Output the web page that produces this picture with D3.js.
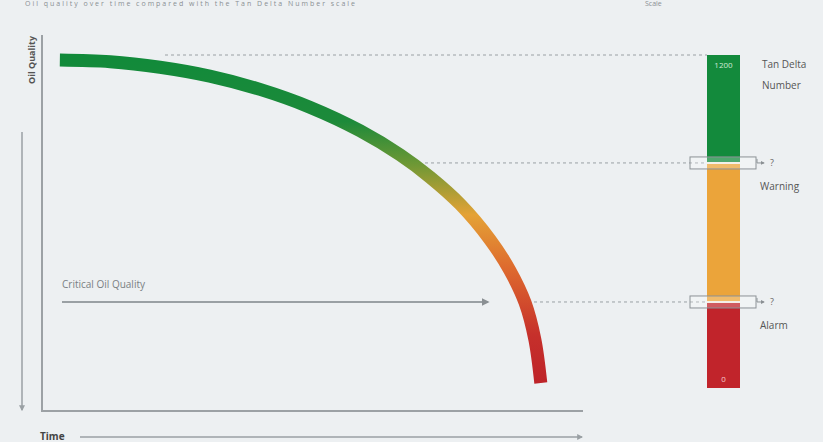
<!DOCTYPE html>
<html>
<head>
<meta charset="utf-8">
<script src="https://cdn.jsdelivr.net/npm/d3@7"></script>
<style>
  html, body { margin: 0; padding: 0; background: #edf0f2; }
  text { font-family: "Open Sans", "DejaVu Sans", sans-serif; }
</style>
</head>
<body>
<svg id="chart" width="823" height="442"></svg>
<script>
// oil quality over time (time 0..100, quality on the 0..1200 TAN scale)
var timePts    = [3.3, 12.6, 21.8, 31.0, 40.3, 49.5, 58.8, 66.2, 71.7, 77.3, 82.8, 86.5, 89.3, 91.1, 92.2];
var qualityPts = [1182, 1176, 1156, 1124, 1076, 1012, 927, 840, 760, 662, 535, 423, 307, 175, 18];

// tan delta scale bands
var bandNames  = ["Alarm", "Warning", "Good"];
var bandFrom   = [0, 310, 811];
var bandTo     = [310, 811, 1200];
var bandColors = ["#c1242b", "#eba43a", "#138a3c"];
var scaleTop   = 1200;
var scaleBottom = 0;
var warningLevel = 811;
var alarmLevel = 310;

var svg = d3.select("#chart");

var x = d3.scaleLinear().domain([0, 100]).range([42, 583]);
var y = d3.scaleLinear().domain([0, 1200]).range([388, 55]);

var defs = svg.append("defs");

function arrowMarker(id, color) {
    defs.append("marker")
        .attr("id", id)
        .attr("viewBox", "0 0 10 10")
        .attr("refX", 8)
        .attr("refY", 5)
        .attr("markerWidth", 4)
        .attr("markerHeight", 4)
        .attr("orient", "auto")
        .append("path")
        .attr("d", "M0,0 L10,5 L0,10 Z")
        .attr("fill", color);
}
arrowMarker("arrGray", "#9aa0a4");
arrowMarker("arrDark", "#8a8f93");

// gradient along curve (vertical, follows the fall of quality)
var grad = defs.append("linearGradient")
    .attr("id", "curveGrad")
    .attr("gradientUnits", "userSpaceOnUse")
    .attr("x1", 0).attr("x2", 0)
    .attr("y1", y(1200)).attr("y2", y(0));
grad.append("stop").attr("offset", "0%").attr("stop-color", "#118a3a");
grad.append("stop").attr("offset", "20%").attr("stop-color", "#1d8a3a");
grad.append("stop").attr("offset", "33%").attr("stop-color", "#6f9835");
grad.append("stop").attr("offset", "48%").attr("stop-color", "#e4a236");
grad.append("stop").attr("offset", "64%").attr("stop-color", "#de6a2e");
grad.append("stop").attr("offset", "84%").attr("stop-color", "#c6302b");
grad.append("stop").attr("offset", "100%").attr("stop-color", "#bd2229");

// faint title line at top
svg.append("text")
    .attr("x", 25).attr("y", 6)
    .attr("font-size", 7)
    .attr("fill", "#8a8f93")
    .attr("textLength", 330)
    .text("Oil quality over time compared with the Tan Delta Number scale");
svg.append("text")
    .attr("x", 645).attr("y", 6)
    .attr("font-size", 7)
    .attr("fill", "#8a8f93")
    .text("Scale");

// axes
svg.append("line")
    .attr("x1", 42).attr("y1", 35)
    .attr("x2", 42).attr("y2", 411)
    .attr("stroke", "#9ca1a5").attr("stroke-width", 2);
svg.append("line")
    .attr("x1", 41).attr("y1", 411)
    .attr("x2", 583).attr("y2", 411)
    .attr("stroke", "#9ca1a5").attr("stroke-width", 2);

svg.append("text")
    .attr("transform", "translate(35,60) rotate(-90)")
    .attr("text-anchor", "middle")
    .attr("font-size", 9)
    .attr("font-weight", "bold")
    .attr("fill", "#555")
    .text("Oil Quality");
svg.append("line")
    .attr("x1", 22).attr("y1", 132)
    .attr("x2", 22).attr("y2", 410)
    .attr("stroke", "#9aa0a4").attr("stroke-width", 1.5)
    .attr("marker-end", "url(#arrGray)");

svg.append("text")
    .attr("x", 40).attr("y", 440)
    .attr("font-size", 10)
    .attr("font-weight", "bold")
    .attr("fill", "#444")
    .text("Time");
svg.append("line")
    .attr("x1", 80).attr("y1", 437)
    .attr("x2", 582).attr("y2", 437)
    .attr("stroke", "#9aa0a4").attr("stroke-width", 1.5)
    .attr("marker-end", "url(#arrGray)");

// dashed level lines to the scale
var barX = 707, barW = 33;
function dashed(xStart, val) {
    svg.append("line")
        .attr("x1", xStart).attr("y1", y(val))
        .attr("x2", barX).attr("y2", y(val))
        .attr("stroke", "#9aa0a4")
        .attr("stroke-width", 1)
        .attr("stroke-dasharray", "3,3");
}
dashed(165, scaleTop);
dashed(425, warningLevel);
dashed(528, alarmLevel);

// critical oil quality arrow
svg.append("text")
    .attr("x", 62).attr("y", 288)
    .attr("font-size", 10)
    .attr("fill", "#7a7f83")
    .text("Critical Oil Quality");
svg.append("line")
    .attr("x1", 62).attr("y1", y(alarmLevel))
    .attr("x2", 488).attr("y2", y(alarmLevel))
    .attr("stroke", "#9aa0a4").attr("stroke-width", 2)
    .attr("marker-end", "url(#arrDark)");

// the curve
var pts = timePts.map(function (t, i) { return [t, qualityPts[i]]; });
var line = d3.line()
    .x(function (d) { return x(d[0]); })
    .y(function (d) { return y(d[1]); })
    .curve(d3.curveCatmullRom.alpha(0.5));
svg.append("path")
    .datum(pts)
    .attr("d", line)
    .attr("fill", "none")
    .attr("stroke", "url(#curveGrad)")
    .attr("stroke-width", 13);

// scale bar
bandNames.forEach(function (n, i) {
    svg.append("rect")
        .attr("x", barX)
        .attr("y", y(bandTo[i]))
        .attr("width", barW)
        .attr("height", y(bandFrom[i]) - y(bandTo[i]))
        .attr("fill", bandColors[i]);
});
svg.append("text")
    .attr("x", barX + barW / 2).attr("y", y(scaleTop) + 13)
    .attr("text-anchor", "middle")
    .attr("font-size", 8)
    .attr("fill", "#cfe9d6")
    .text(scaleTop);
svg.append("text")
    .attr("x", barX + barW / 2).attr("y", y(scaleBottom) - 6)
    .attr("text-anchor", "middle")
    .attr("font-size", 8)
    .attr("fill", "#f5c9cb")
    .text(scaleBottom);

// level markers on the bar
function marker(val, label) {
    var yy = y(val);
    svg.append("rect")
        .attr("x", 690).attr("y", yy - 6)
        .attr("width", 66).attr("height", 12)
        .attr("fill", "rgba(255,255,255,0.25)")
        .attr("stroke", "#8c9296").attr("stroke-width", 1);
    svg.append("line")
        .attr("x1", barX).attr("y1", yy)
        .attr("x2", barX + barW).attr("y2", yy)
        .attr("stroke", "#f4f0e8").attr("stroke-width", 2);
    svg.append("path")
        .attr("d", "M757," + (yy - 4) + " L757," + yy + " L764," + yy)
        .attr("fill", "none")
        .attr("stroke", "#8c9296").attr("stroke-width", 1)
        .attr("marker-end", "url(#arrDark)");
    svg.append("text")
        .attr("x", 770).attr("y", yy + 3)
        .attr("font-size", 9)
        .attr("fill", "#666")
        .text("?");
    svg.append("text")
        .attr("x", 760).attr("y", yy + 27)
        .attr("font-size", 10)
        .attr("fill", "#555")
        .text(label);
}
marker(warningLevel, "Warning");
marker(alarmLevel, "Alarm");

svg.append("text")
    .attr("x", 762).attr("y", 68)
    .attr("font-size", 10)
    .attr("fill", "#555")
    .text("Tan Delta");
svg.append("text")
    .attr("x", 762).attr("y", 89)
    .attr("font-size", 10)
    .attr("fill", "#555")
    .text("Number");
</script>
</body>
</html>
